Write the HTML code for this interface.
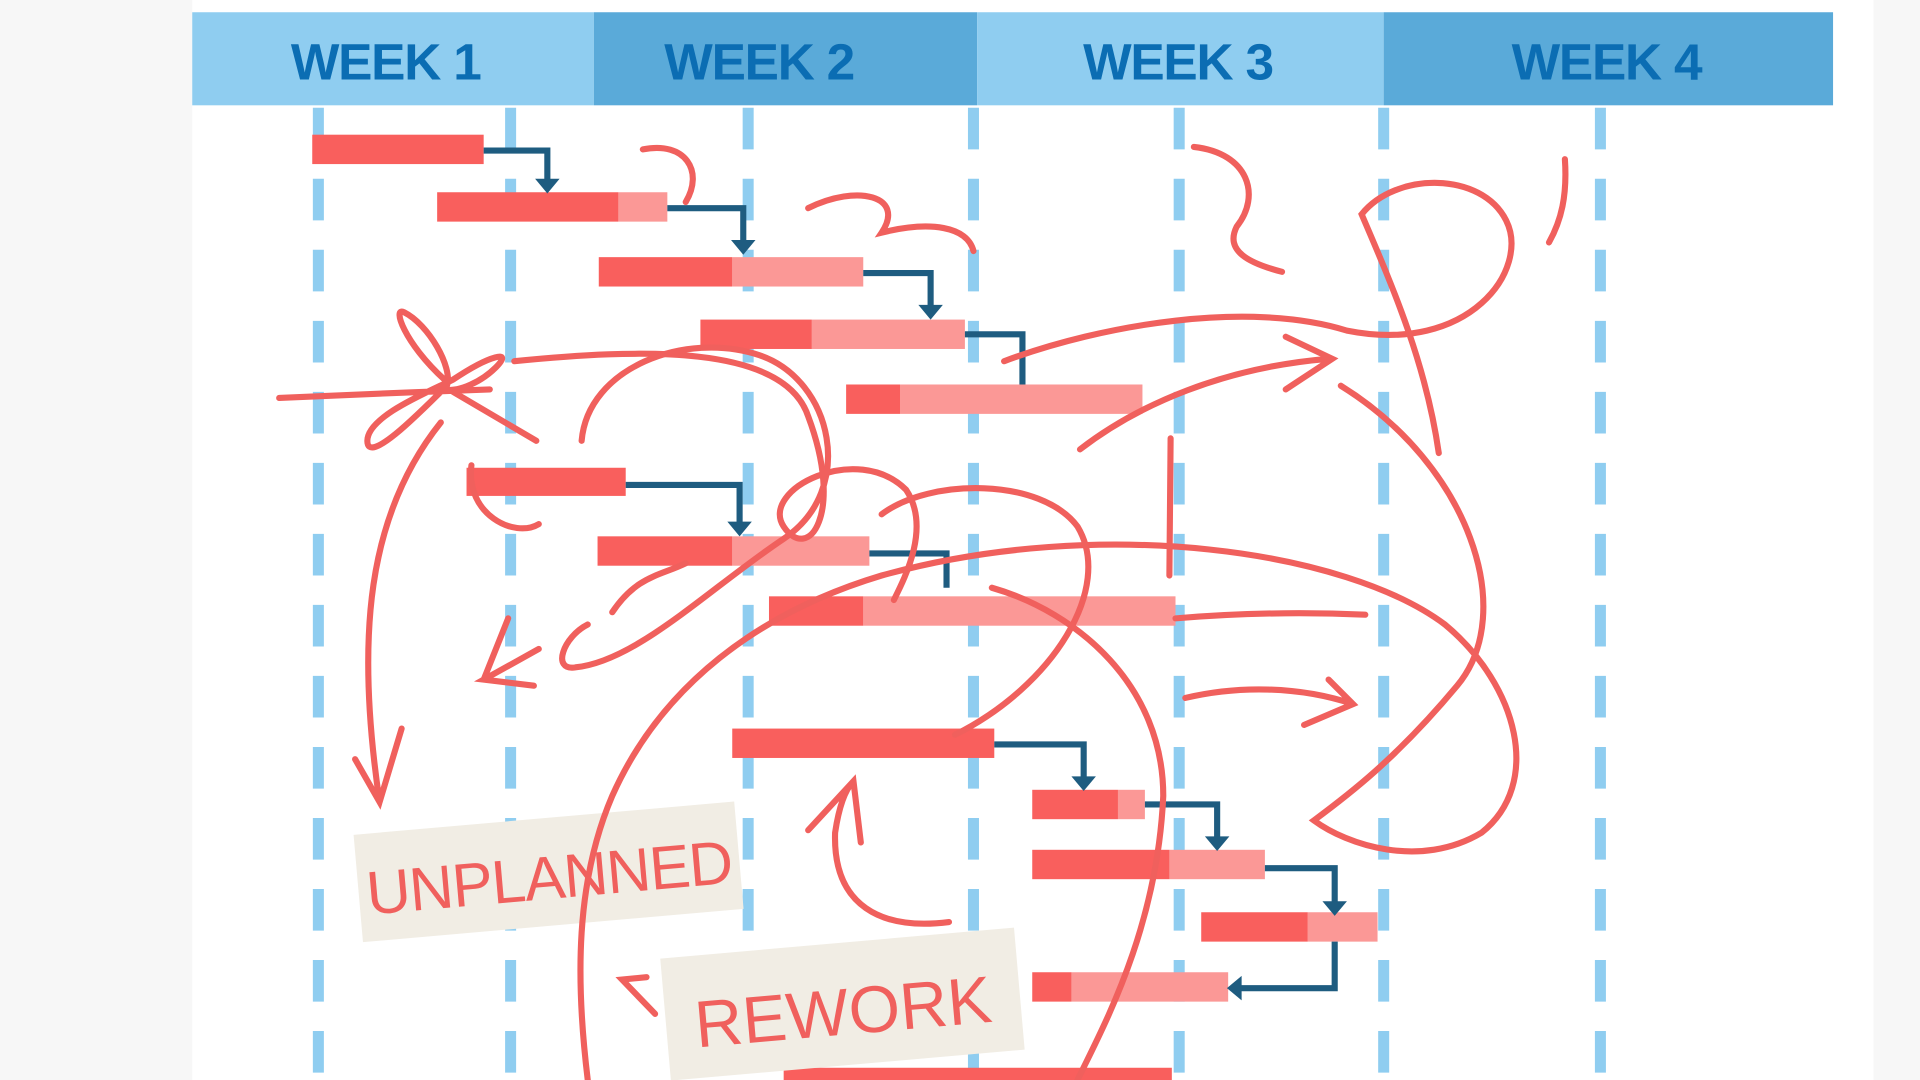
<!DOCTYPE html>
<html><head><meta charset="utf-8"><style>
html,body{margin:0;padding:0;background:#fff;width:1920px;height:1080px;overflow:hidden}
svg{display:block}
</style></head><body>
<svg width="1920" height="1080" viewBox="0 0 1568 882" preserveAspectRatio="none" xmlns="http://www.w3.org/2000/svg">
<rect width="1568" height="882" fill="#f7f7f7"/>
<rect x="157" y="0" width="1373" height="882" fill="#fff"/>
<rect x="157" y="10" width="328" height="76" fill="#8fcdf0"/>
<rect x="485" y="10" width="313" height="76" fill="#5aaad9"/>
<rect x="798" y="10" width="332" height="76" fill="#8fcdf0"/>
<rect x="1130" y="10" width="367" height="76" fill="#5aaad9"/>
<g font-family="Liberation Sans, sans-serif" font-weight="bold" font-size="42" fill="#0b6db3" text-anchor="middle" letter-spacing="-1">
<text x="315" y="65">WEEK 1</text><text x="620" y="65">WEEK 2</text><text x="962" y="65">WEEK 3</text><text x="1312" y="65">WEEK 4</text>
</g>
<g stroke="#8fcdf0" stroke-width="9" stroke-dasharray="34 24">
<line x1="260" y1="88" x2="260" y2="882"/><line x1="417" y1="88" x2="417" y2="882"/><line x1="611" y1="88" x2="611" y2="882"/><line x1="795" y1="88" x2="795" y2="882"/><line x1="963" y1="88" x2="963" y2="882"/><line x1="1130" y1="88" x2="1130" y2="882"/><line x1="1307" y1="88" x2="1307" y2="882"/>
</g>
<g fill="#fb9896">
<rect x="505" y="157" width="40" height="24"/><rect x="598" y="210" width="107" height="24"/><rect x="663" y="261" width="125" height="24"/><rect x="735" y="314" width="198" height="24"/><rect x="598" y="438" width="112" height="24"/><rect x="705" y="487" width="255" height="24"/><rect x="913" y="645" width="22" height="24"/><rect x="955" y="694" width="78" height="24"/><rect x="1068" y="745" width="57" height="24"/><rect x="875" y="794" width="128" height="24"/>
</g>
<g fill="#f95f5d">
<rect x="255" y="110" width="140" height="24"/><rect x="357" y="157" width="148" height="24"/><rect x="489" y="210" width="109" height="24"/><rect x="572" y="261" width="91" height="24"/><rect x="691" y="314" width="44" height="24"/><rect x="381" y="382" width="130" height="23"/><rect x="488" y="438" width="110" height="24"/><rect x="628" y="487" width="77" height="24"/><rect x="598" y="595" width="214" height="24"/><rect x="843" y="645" width="70" height="24"/><rect x="843" y="694" width="112" height="24"/><rect x="981" y="745" width="87" height="24"/><rect x="843" y="794" width="32" height="24"/><rect x="640" y="872" width="317" height="10"/>
</g>
<g fill="none" stroke="#1e5c80" stroke-width="5">
<polyline points="395,123 447,123 447,148"/><polyline points="545,170 607,170 607,198"/><polyline points="705,223 760,223 760,251"/><polyline points="788,273 835,273 835,314"/><polyline points="511,396 604,396 604,428"/><polyline points="710,452 773,452 773,480"/><polyline points="812,608 885,608 885,636"/><polyline points="935,657 994,657 994,685"/><polyline points="1033,709 1090,709 1090,738"/><polyline points="1090,769 1090,807 1012,807"/>
</g>
<g fill="#1e5c80">
<polygon points="437,146 457,146 447,158"/><polygon points="597,196 617,196 607,208"/><polygon points="750,249 770,249 760,261"/><polygon points="594,426 614,426 604,438"/><polygon points="875,634 895,634 885,646"/><polygon points="984,683 1004,683 994,695"/><polygon points="1080,736 1100,736 1090,748"/><polygon points="1014,797 1014,817 1002,807"/>
</g>
<g transform="rotate(-5 448 712)"><rect x="292" y="668" width="312" height="88" fill="#f1ede4"/>
<text x="448" y="734" font-family="Liberation Sans, sans-serif" font-size="50" fill="#f0605d" text-anchor="middle" letter-spacing="-1">UNPLANNED</text></g>
<g transform="rotate(-5 688 820)"><rect x="543" y="770" width="290" height="100" fill="#f1ede4"/>
<text x="688" y="845" font-family="Liberation Sans, sans-serif" font-size="54" fill="#f0605d" text-anchor="middle">REWORK</text></g>
<g fill="none" stroke="#f0605d" stroke-width="5" stroke-linecap="round">
<path d="M228 325 C300 322 340 320 400 318 M363 310 C330 280 320 250 330 255 C350 265 370 300 365 315 C340 340 300 380 300 360 C300 340 350 320 370 310 C400 290 420 285 405 300 C390 315 370 320 365 318 M370 320 L438 360"/>
<path d="M360 345 C300 420 290 520 310 655 M290 620 L310 655 L328 595"/>
<path d="M420 295 C520 285 640 280 660 340 C690 420 660 460 640 430 C620 400 700 360 740 400 C760 430 740 470 730 490"/>
<path d="M475 360 C480 300 560 270 620 290 C680 310 700 400 640 440 C580 480 520 540 470 545 C450 548 460 520 480 510 M500 500 C520 470 540 470 560 460 M440 530 L395 555 L436 560 M395 555 L415 505"/>
<path d="M385 380 C380 420 420 440 440 428"/>
<path d="M525 122 C560 115 575 140 560 165 M660 170 C700 150 740 160 720 190 C760 180 790 185 795 205"/>
<path d="M975 120 C1020 125 1030 160 1010 185 C1000 205 1020 215 1047 222"/>
<path d="M820 295 C900 265 1020 245 1100 270 C1200 290 1250 220 1230 180 C1210 140 1140 140 1112 175 C1140 240 1165 300 1175 370 M1278 130 C1280 160 1275 180 1265 198"/>
<path d="M882 367 C930 330 1000 300 1085 293 M1050 275 L1088 293 L1050 318"/>
<path d="M956 358 L955 470"/>
<path d="M1095 315 C1200 380 1240 500 1190 560 C1140 620 1100 650 1073 670 C1100 690 1160 710 1210 680 C1260 640 1240 560 1180 510 C1100 450 900 420 720 470 C620 500 540 560 500 650 C470 720 470 800 480 882"/>
<path d="M720 420 C760 390 850 390 880 430 C910 480 860 560 780 600"/>
<path d="M810 480 C880 500 950 560 950 650 C945 760 900 840 880 882"/>
<path d="M960 505 C1020 500 1070 500 1115 502"/>
<path d="M968 570 C1010 560 1060 560 1105 575 M1085 555 L1105 575 L1065 592"/>
<path d="M775 753 C720 760 680 740 682 680 C685 660 690 645 697 638 M660 678 L697 638 L703 688"/>
<path d="M535 828 L508 800 L528 798"/>
</g>
</svg>
</body></html>
